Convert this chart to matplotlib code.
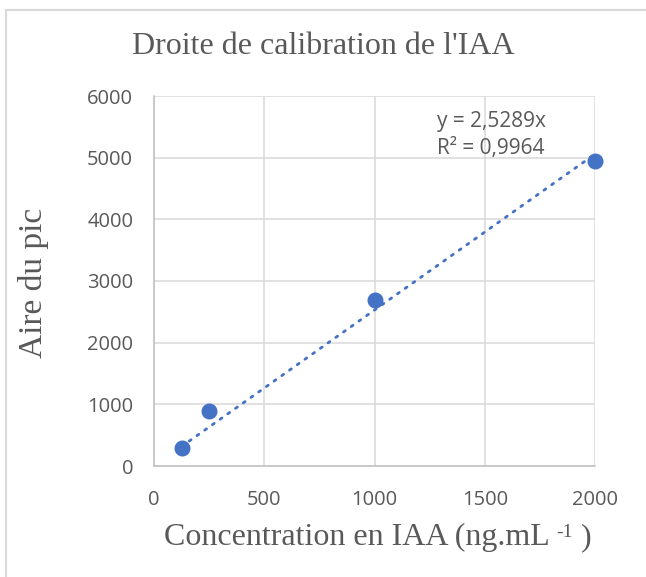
import matplotlib
matplotlib.use("Agg")
import matplotlib.pyplot as plt
import numpy as np
from matplotlib.patches import Rectangle

conc = [125, 250, 1000, 2000]
area = [300, 890, 2700, 4940]
slope = 2.5289
r2 = 0.9964
xticks = [0, 500, 1000, 1500, 2000]
yticks = [0, 1000, 2000, 3000, 4000, 5000, 6000]

blue = "#4472C4"
grey_txt = "#595959"
grid_c = "#d9d9d9"

fig = plt.figure(figsize=(6.46, 5.77), dpi=100)
ax = fig.add_axes([154/646, 1-466/577, (595-154)/646, (466-96)/577])

ax.set_xlim(0, 2000)
ax.set_ylim(0, 6000)
ax.set_xticks(xticks)
ax.set_yticks(yticks)
ax.grid(True, color=grid_c, linewidth=1.1)
ax.set_axisbelow(True)
for s in ["top", "right"]:
    ax.spines[s].set_visible(False)
for s in ["left", "bottom"]:
    ax.spines[s].set_color("#bfbfbf")
    ax.spines[s].set_linewidth(1.1)
ax.tick_params(length=0, labelsize=14.5, labelcolor=grey_txt)
ax.tick_params(axis="y", pad=15)
ax.tick_params(axis="x", pad=17)
for lab in ax.get_xticklabels() + ax.get_yticklabels():
    lab.set_fontfamily("Open Sans")

xt = np.array([min(conc), max(conc)])
ax.plot(xt, slope * xt, linestyle=(0, (0.8, 2.6)), color=blue, linewidth=2.0,
        dash_capstyle="round", zorder=2)
ax.plot(conc, area, "o", color=blue, markersize=10.5, zorder=3, clip_on=False)

ax.text(1285, 5590, f"y = {slope:.4f}x".replace(".", ","), fontsize=15,
        color=grey_txt, family="Open Sans", va="center")
ax.text(1285, 5150, f"R² = {r2:.4f}".replace(".", ","), fontsize=15,
        color=grey_txt, family="Open Sans", va="center")

fig.text(0.5, 1-47/577, "Droite de calibration de l'IAA", ha="center", va="center",
         fontsize=23, family="Liberation Serif", color=grey_txt)

# x label with small superscript
fig.canvas.draw()
r = fig.canvas.get_renderer()
parts = [("Concentration en IAA (ng.mL ", 23, 0), ("-1", 14, 8), (" )", 23, 0)]
widths = []
for s, fs, dy in parts:
    t = fig.text(0, 0, s, fontsize=fs, family="Liberation Serif")
    widths.append(t.get_window_extent(r).width)
    t.remove()
total = sum(widths)
cx = (154 + 595) / 2 + 3
x0 = cx - total / 2
base = 545
for (s, fs, dy), w in zip(parts, widths):
    fig.text(x0 / 646, 1 - (base - dy) / 577, s, fontsize=fs, family="Liberation Serif",
             color=grey_txt, ha="left", va="baseline")
    x0 += w

fig.text(34/646, 1-283/577, "Aire du pic", ha="center", va="center", rotation=90,
         fontsize=24, family="Liberation Serif", color=grey_txt)

fig.patches.append(Rectangle((6/646, -0.1), 1.2, 1.1 - 10/577, transform=fig.transFigure,
                             fill=False, edgecolor="#d9d9d9", linewidth=1.5))

fig.savefig("out.png", dpi=100)
